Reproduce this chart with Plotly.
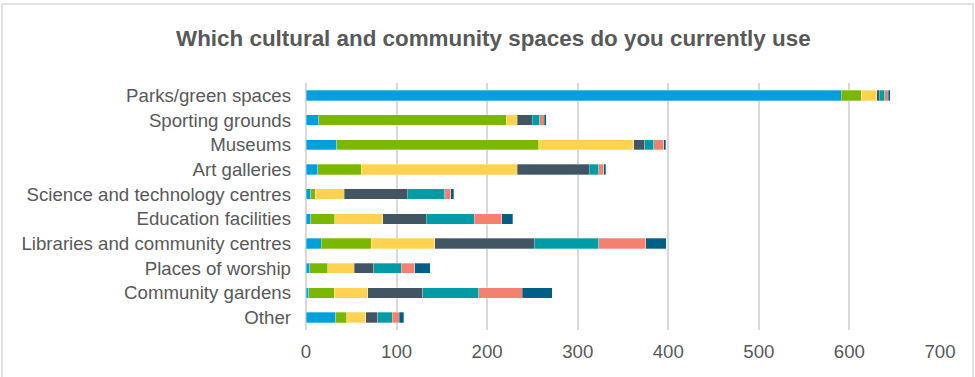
import plotly.graph_objects as go

# Spaces asked about in the survey (top to bottom)
spaces = [
    "Parks/green spaces",
    "Sporting grounds",
    "Museums",
    "Art galleries",
    "Science and technology centres",
    "Education facilities",
    "Libraries and community centres",
    "Places of worship",
    "Community gardens",
    "Other",
]

# Respondent counts per response group, one list per stacked segment
group_1 = [591, 14, 34, 13, 5, 5, 17, 4, 3, 33]
group_2 = [22, 207, 223, 48, 5, 27, 55, 20, 28, 12]
group_3 = [17, 12, 105, 172, 32, 53, 70, 29, 37, 21]
group_4 = [3, 17, 12, 80, 70, 48, 110, 22, 61, 13]
group_5 = [6, 8, 10, 10, 41, 53, 71, 30, 62, 16]
group_6 = [4, 5, 11, 6, 7, 30, 52, 15, 48, 8]
group_7 = [2, 2, 2, 2, 3, 12, 23, 17, 33, 5]

x_ticks = [0, 100, 200, 300, 400, 500, 600, 700]

series = [
    ("Group 1", group_1, "#00A0DC"),
    ("Group 2", group_2, "#7AB800"),
    ("Group 3", group_3, "#FFD351"),
    ("Group 4", group_4, "#425563"),
    ("Group 5", group_5, "#009CA6"),
    ("Group 6", group_6, "#F4806F"),
    ("Group 7", group_7, "#005F87"),
]

fig = go.Figure()
for name, values, color in series:
    fig.add_trace(go.Bar(
        y=spaces,
        x=values,
        name=name,
        orientation="h",
        marker=dict(color=color, line=dict(color="rgba(255,255,255,0.5)", width=0.6)),
        showlegend=False,
    ))

# Plot area spans pixel x 306..940, y 83..330
L, R, T, B = 306, 35, 83, 47
W, H = 975, 377
pw, ph = W - L - R, H - T - B

def px_x(p):
    return (p - L) / pw

def px_y(p):
    return (H - B - p) / ph

fig.update_layout(
    width=W,
    height=H,
    barmode="stack",
    bargap=0.58,
    margin=dict(l=L, r=R, t=T, b=B),
    paper_bgcolor="white",
    plot_bgcolor="white",
    font=dict(family="Liberation Sans, Arial, sans-serif", color="#595959", size=18.67),
    title=dict(
        text="<b>Which cultural and community spaces do you currently use</b>",
        x=0.506,
        xanchor="center",
        y=1 - 38.5 / H,
        yanchor="middle",
        font=dict(size=22.4, color="#595959"),
    ),
    xaxis=dict(
        range=[0, 700],
        tickvals=x_ticks,
        showgrid=True,
        gridcolor="#D9D9D9",
        gridwidth=2,
        zeroline=True,
        zerolinecolor="#D9D9D9",
        zerolinewidth=2,
        ticklabelstandoff=8,
        tickfont=dict(size=18.67, color="#595959"),
        fixedrange=True,
    ),
    yaxis=dict(
        categoryorder="array",
        categoryarray=spaces[::-1],
        showgrid=False,
        ticklabelstandoff=14,
        tickfont=dict(size=18.67, color="#595959"),
        fixedrange=True,
    ),
    shapes=[
        dict(
            type="rect",
            xref="paper",
            yref="paper",
            x0=px_x(2),
            x1=px_x(973),
            y0=px_y(400),
            y1=px_y(4),
            line=dict(color="#D9D9D9", width=1.5),
            fillcolor="rgba(0,0,0,0)",
            layer="below",
        )
    ],
)

fig.write_html("out.html")
